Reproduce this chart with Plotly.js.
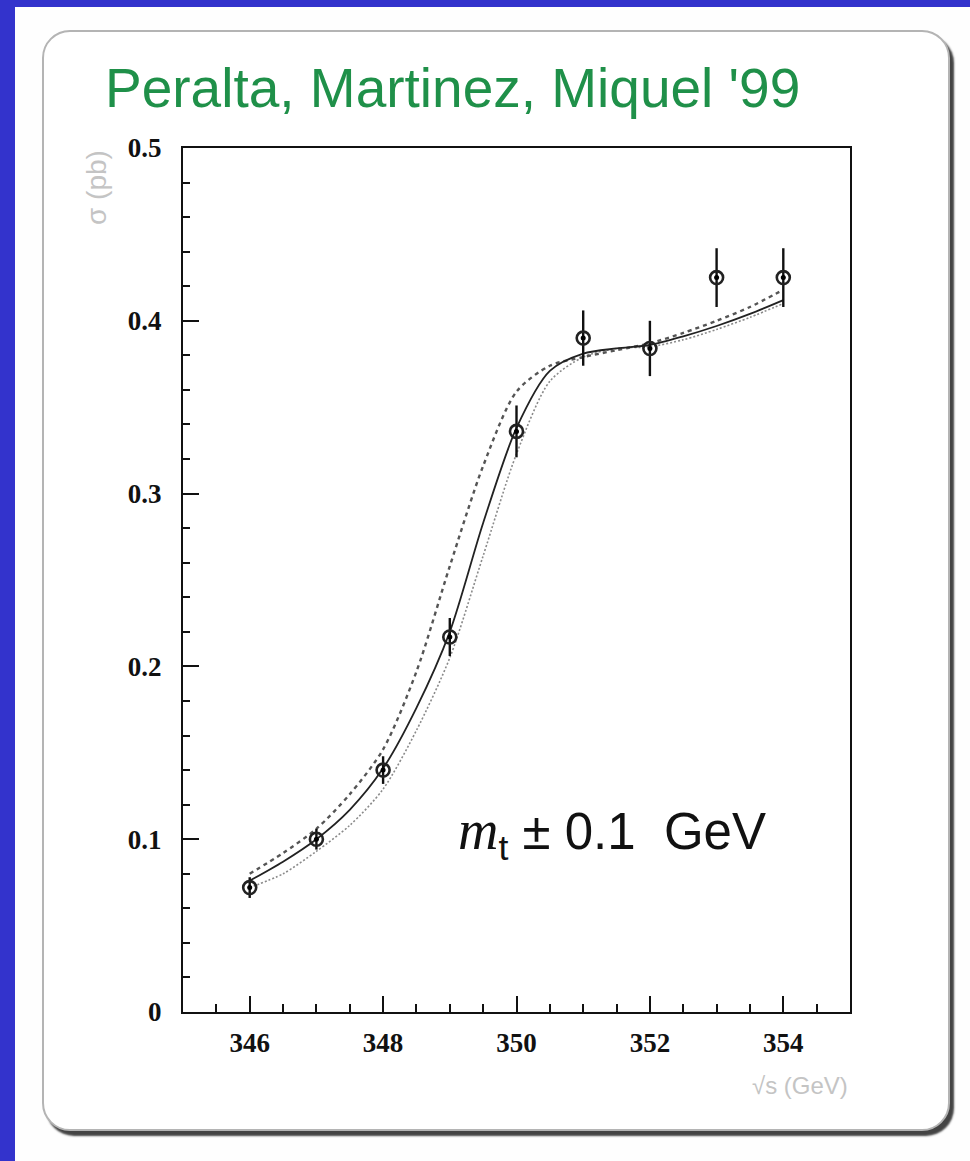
<!DOCTYPE html>
<html>
<head>
<meta charset="utf-8">
<script src="https://cdn.plot.ly/plotly-3.0.1.min.js"></script>
<style>
  html, body { margin: 0; padding: 0; }
  body { width: 970px; height: 1161px; background: #3333cc; position: relative; overflow: hidden; }
  #sheet { position: absolute; left: 15px; top: 7px; width: 955px; height: 1154px; background: #fefefe; }
  #panel { position: absolute; left: 42px; top: 30px; width: 904px; height: 1097px;
           border: 2px solid #b4b4b4; border-radius: 28px; background: #ffffff;
           box-shadow: 4px 5px 2px #444444; }
  #chart { position: absolute; left: 0; top: 0; width: 970px; height: 1161px; }
</style>
</head>
<body>
<div id="sheet"></div>
<div id="panel"></div>
<div id="chart"></div>
<script>
// Measured cross sections near the top-pair threshold
const energies = [346, 347, 348, 349, 350, 351, 352, 353, 354];
const sigma    = [0.072, 0.100, 0.140, 0.217, 0.336, 0.390, 0.384, 0.425, 0.425];
const sigmaErr = [0.006, 0.006, 0.008, 0.011, 0.015, 0.016, 0.016, 0.017, 0.017];

// Theory curves: nominal top mass and shifted by -0.1 / +0.1 GeV
const curveX       = [346, 346.5, 347, 347.5, 348, 348.5, 349, 349.5, 350, 350.5, 351, 351.5, 352, 352.5, 353, 353.5, 354];
const curveCentral = [0.076, 0.087, 0.100, 0.117, 0.141, 0.176, 0.220, 0.283, 0.338, 0.371, 0.381, 0.384, 0.386, 0.391, 0.397, 0.404, 0.412];
const curveLower   = [0.080, 0.092, 0.106, 0.126, 0.152, 0.197, 0.258, 0.316, 0.359, 0.374, 0.379, 0.383, 0.387, 0.393, 0.400, 0.408, 0.418];
const curveUpper   = [0.072, 0.080, 0.093, 0.108, 0.129, 0.163, 0.205, 0.264, 0.323, 0.365, 0.379, 0.384, 0.385, 0.389, 0.395, 0.402, 0.410];

const xTicks = [346, 348, 350, 352, 354];
const yTicks = [0, 0.1, 0.2, 0.3, 0.4, 0.5];
const yTickText = ['0', '0.1', '0.2', '0.3', '0.4', '0.5'];

const titleText = "Peralta, Martinez, Miquel '99";
const massLabel = '<span style="font-family:\'Liberation Serif\';font-style:italic;font-size:56px">m</span><sub>t</sub> \u00b1 0.1\u00a0\u00a0GeV';
const xTitle = '\u221as (GeV)';
const yTitle = '\u03c3 (pb)';

const traces = [
  { x: curveX, y: curveUpper, mode: 'lines', line: { color: '#8a8a8a', width: 1.6, dash: '2px,2px', shape: 'spline', smoothing: 0.8 }, hoverinfo: 'skip' },
  { x: curveX, y: curveLower, mode: 'lines', line: { color: '#555555', width: 2.4, dash: '4px,4px', shape: 'spline', smoothing: 0.8 }, hoverinfo: 'skip' },
  { x: curveX, y: curveCentral, mode: 'lines', line: { color: '#222222', width: 1.8, shape: 'spline', smoothing: 0.8 }, hoverinfo: 'skip' },
  // ring of each data marker, with its error bar
  { x: energies, y: sigma, mode: 'markers',
    marker: { symbol: 'circle-open', size: 13, color: '#222222', line: { color: '#222222', width: 2.6 } },
    error_y: { type: 'data', array: sigmaErr, visible: true, width: 0, thickness: 2.4, color: '#111111' } },
  // filled centre of each data marker
  { x: energies, y: sigma, mode: 'markers',
    marker: { symbol: 'circle', size: 5, color: '#000000', line: { width: 0 } } }
];

const axisFont = { family: 'Liberation Serif', size: 27, color: '#111111', weight: 'bold' };
const pxX = px => (px - 183) / 667;
const pxY = py => (1012 - py) / 864;

const layout = {
  width: 970, height: 1161,
  margin: { l: 183, r: 120, t: 148, b: 149, pad: 0 },
  paper_bgcolor: 'rgba(0,0,0,0)', plot_bgcolor: 'rgba(0,0,0,0)',
  showlegend: false,
  xaxis: {
    range: [345, 355], tickmode: 'array', tickvals: xTicks,
    ticks: 'inside', ticklen: 16, tickwidth: 2, tickcolor: '#111111',
    showline: true, linewidth: 2, linecolor: '#111111', mirror: true,
    showgrid: false, zeroline: false, tickfont: axisFont, ticklabelstandoff: 6,
    minor: { dtick: 0.5, tick0: 345, ticks: 'inside', ticklen: 8, tickwidth: 2, tickcolor: '#111111', showgrid: false }
  },
  yaxis: {
    range: [0, 0.5], tickmode: 'array', tickvals: yTicks, ticktext: yTickText,
    ticks: 'inside', ticklen: 16, tickwidth: 2, tickcolor: '#111111',
    showline: true, linewidth: 2, linecolor: '#111111', mirror: true,
    showgrid: false, zeroline: false, tickfont: axisFont, ticklabelstandoff: 14,
    minor: { dtick: 0.02, tick0: 0, ticks: 'inside', ticklen: 7, tickwidth: 2, tickcolor: '#111111', showgrid: false }
  },
  annotations: [
    { text: titleText, xref: 'paper', yref: 'paper', x: pxX(103), y: pxY(88), xanchor: 'left', yanchor: 'middle',
      showarrow: false, font: { family: 'Liberation Sans', size: 55, color: '#1f9049' } },
    { text: yTitle, xref: 'paper', yref: 'paper', x: pxX(96), y: pxY(188), xanchor: 'center', yanchor: 'middle',
      textangle: -90, showarrow: false, font: { family: 'Liberation Sans', size: 28, color: '#c4c4c4' } },
    { text: xTitle, xref: 'paper', yref: 'paper', x: 1, y: pxY(1085), xanchor: 'right', yanchor: 'middle',
      showarrow: false, font: { family: 'Liberation Sans', size: 24, color: '#c4c4c4' } },
    { text: massLabel, xref: 'paper', yref: 'paper', x: pxX(456), y: pxY(833), xanchor: 'left', yanchor: 'middle',
      showarrow: false, font: { family: 'Liberation Sans', size: 51, color: '#111111' } }
  ]
};

Plotly.newPlot('chart', traces, layout, { displayModeBar: false, staticPlot: true });
</script>
</body>
</html>
